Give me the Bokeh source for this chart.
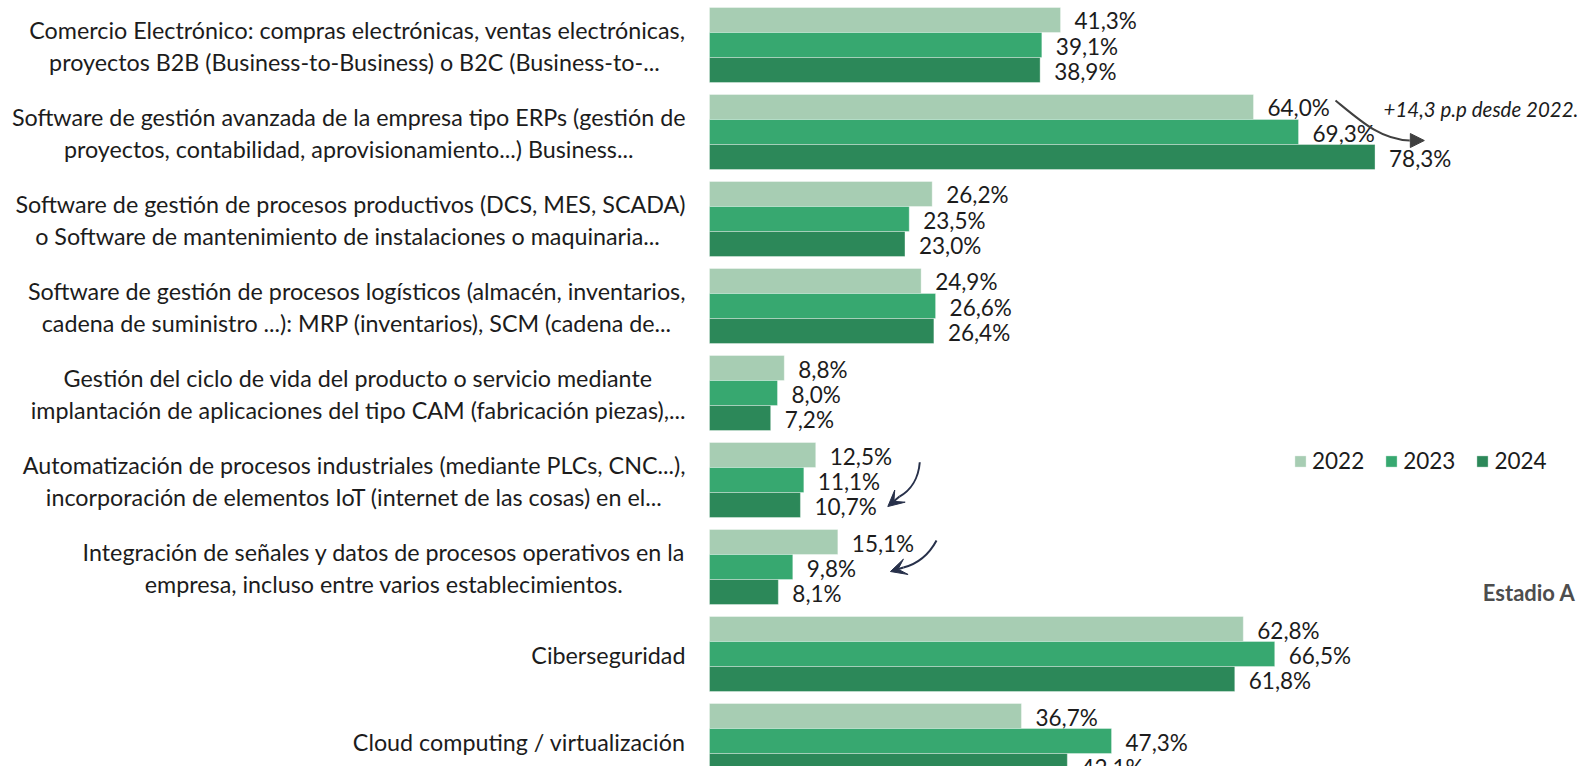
from bokeh.plotting import figure
from bokeh.models import (ColumnDataSource, Range1d, Label, Arrow, NormalHead, VeeHead)
from bokeh.core.properties import value
from bokeh.embed import file_html
from bokeh.resources import INLINE
import numpy as np

categories = [
    "Comercio Electrónico: compras electrónicas, ventas electrónicas,\nproyectos  B2B (Business-to-Business) o B2C (Business-to-...",
    "Software de gestión avanzada de la empresa tipo ERPs (gestión de\nproyectos, contabilidad, aprovisionamiento...) Business...",
    "Software de gestión de procesos productivos (DCS, MES, SCADA)\no Software de mantenimiento de  instalaciones o maquinaria...",
    "Software de gestión de procesos logísticos (almacén, inventarios,\ncadena de suministro ...): MRP (inventarios), SCM (cadena de...",
    "Gestión del ciclo de vida del producto o servicio mediante\nimplantación de aplicaciones del tipo CAM (fabricación piezas),...",
    "Automatización de procesos industriales (mediante PLCs, CNC...),\nincorporación de elementos IoT (internet de las cosas) en el...",
    "Integración de señales y datos de procesos operativos en la\nempresa, incluso entre varios establecimientos.",
    "Ciberseguridad",
    "Cloud computing / virtualización",
]
years = ["2022", "2023", "2024"]
v2022 = [41.3, 64.0, 26.2, 24.9, 8.8, 12.5, 15.1, 62.8, 36.7]
v2023 = [39.1, 69.3, 23.5, 26.6, 8.0, 11.1, 9.8, 66.5, 47.3]
v2024 = [38.9, 78.3, 23.0, 26.4, 7.2, 10.7, 8.1, 61.8, 42.1]
colors = ["#a7cdb3", "#37a870", "#2c8859"]

FONT = "Lato"
TXT = "#1c1c1c"

idx = np.arange(len(categories))
bar_h = 0.2874
offsets = [-bar_h, 0.0, bar_h]

def fmt(v):
    return f"{v:.1f}".replace(".", ",") + "%"

p = figure(width=1577, height=766,
           x_range=Range1d(-83.41, 102.12),
           y_range=Range1d(8.293, -0.5115),
           output_backend="svg", toolbar_location=None, min_border=0)
p.axis.visible = False
p.grid.visible = False
p.outline_line_color = None
p.background_fill_color = "white"

for vals, yr, col, off in zip([v2022, v2023, v2024], years, colors, offsets):
    src = ColumnDataSource(dict(y=idx + off, v=vals, lab=[fmt(v) for v in vals]))
    p.hbar(y="y", right="v", left=0, height=bar_h, source=src,
           fill_color=col, line_color="white", line_width=1, line_alpha=0.35,
           legend_label=yr)
    p.text(x="v", y="y", text="lab", source=src, x_offset=14, y_offset=1,
           text_font=value(FONT), text_font_size="22.5px", text_color=TXT,
           text_baseline="middle", text_align="left")

# category labels
csrc = ColumnDataSource(dict(y=idx, x=np.zeros(len(idx)), t=categories))
p.text(x="x", y="y", text="t", source=csrc, x_offset=-24, y_offset=1,
       anchor="center_right", text_align="center", text_baseline="middle",
       text_line_height=1.12,
       text_font=value(FONT), text_font_size="23.3px", text_color=TXT)

# annotations
gray = "#404040"
navy = "#27304a"
p.bezier(x0=[73.65], y0=[0.638], x1=[82.35], y1=[1.098],
         cx0=[76.8], cy0=[0.891], cx1=[79.0], cy1=[1.086],
         line_color=gray, line_width=2)
p.add_layout(Arrow(x_start=82.35, y_start=1.098, x_end=84.1, y_end=1.098,
                   line_color=gray, line_width=2,
                   end=NormalHead(size=14, fill_color=gray, line_color=gray)))
p.add_layout(Label(x=79.3, y=0.73, text="+14,3 p.p desde 2022.",
                   text_font=FONT, text_font_style="italic", text_font_size="20.5px",
                   text_color=TXT, text_baseline="middle"))

p.bezier(x0=[24.74], y0=[4.796], x1=[22.35], y1=[5.19],
         cx0=[24.59], cy0=[4.983], cx1=[23.65], cy1=[5.121],
         line_color=navy, line_width=2)
p.add_layout(Arrow(x_start=22.35, y_start=5.19, x_end=20.98, y_end=5.305,
                   line_color=navy, line_width=2,
                   end=VeeHead(size=16, fill_color=navy, line_color=navy)))

p.bezier(x0=[26.71], y0=[5.695], x1=[22.82], y1=[6.006],
         cx0=[25.76], cy0=[5.868], cx1=[24.59], cy1=[5.96],
         line_color=navy, line_width=2)
p.add_layout(Arrow(x_start=22.82, y_start=6.006, x_end=21.29, y_end=6.052,
                   line_color=navy, line_width=2,
                   end=VeeHead(size=16, fill_color=navy, line_color=navy)))

p.add_layout(Label(x=101.9, y=6.293, text="Estadio A",
                   text_font=FONT, text_font_style="bold", text_font_size="22px",
                   text_color="#4d4d4d", text_baseline="middle", text_align="right"))

leg = p.legend[0]
leg.orientation = "horizontal"
leg.location = (1293, 292)
leg.padding = 0
leg.margin = 0
leg.spacing = 20
leg.glyph_width = 14
leg.glyph_height = 14
leg.label_standoff = 5
leg.label_text_font = FONT
leg.label_text_font_size = "22.5px"
leg.label_text_color = TXT
leg.border_line_alpha = 0
leg.background_fill_alpha = 0

open("out.html", "w").write(file_html(p, INLINE))
